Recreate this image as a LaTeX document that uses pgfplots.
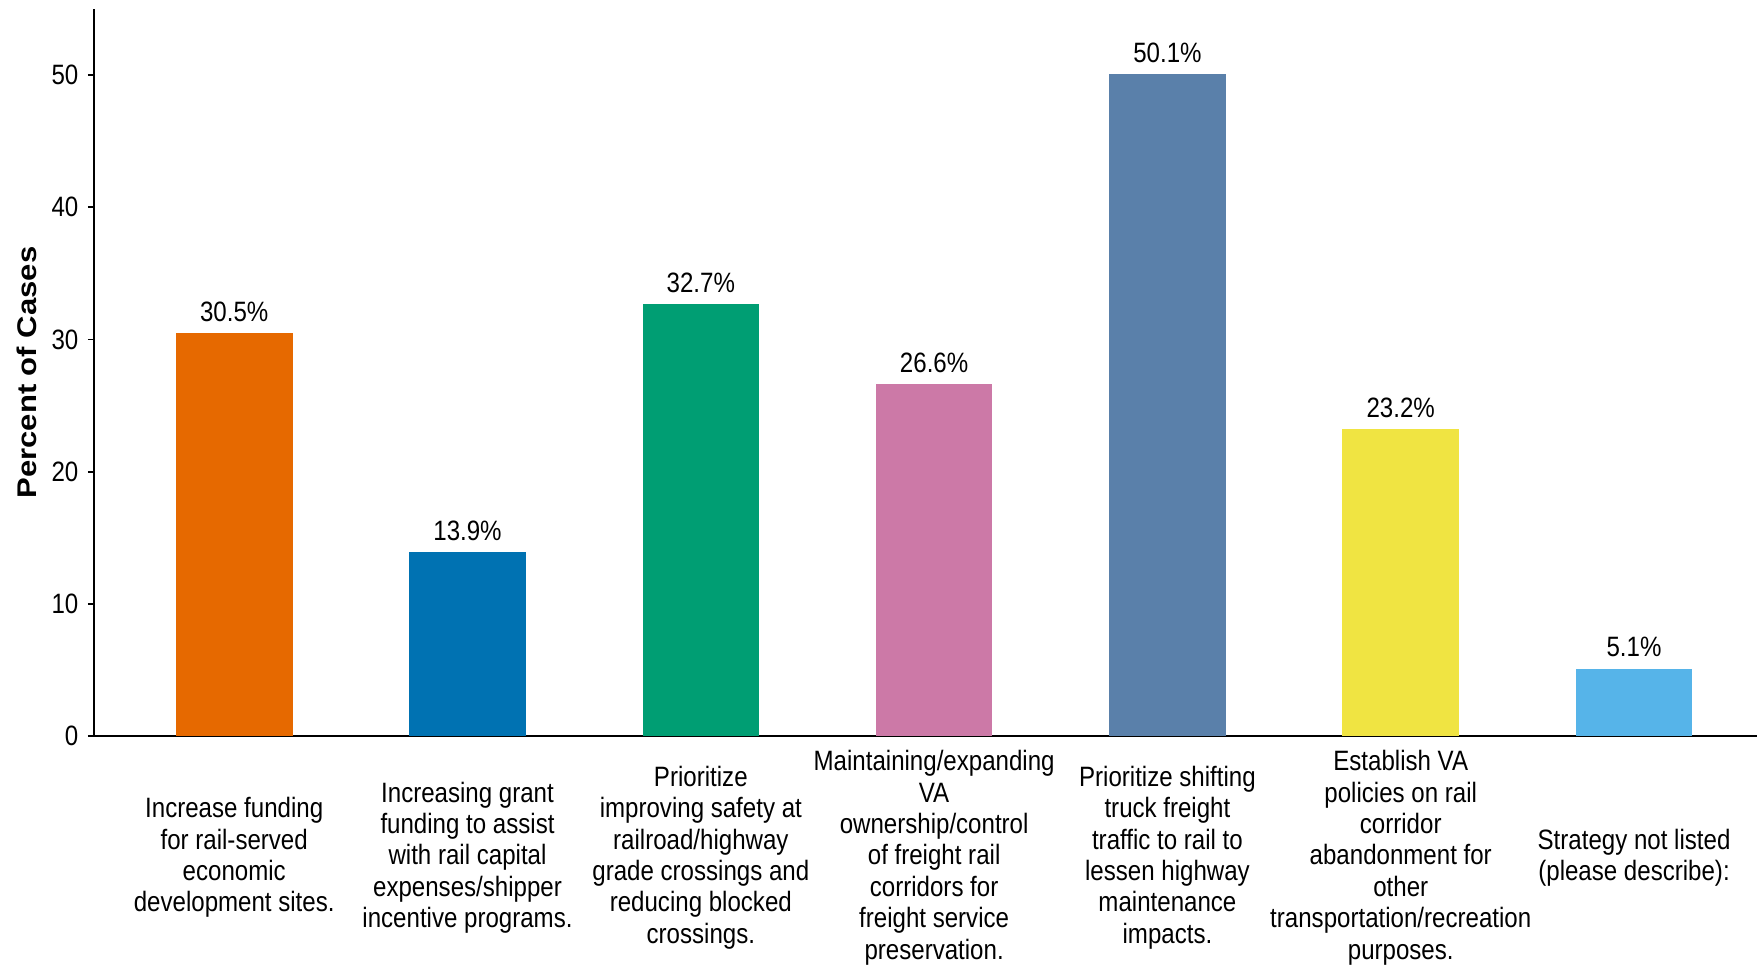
\documentclass[border=0pt]{standalone}
\usepackage{pgfplots}
\pgfplotsset{compat=1.18}
\usepackage{fontspec}
\setmainfont{Liberation Sans}[FakeStretch=0.86]
\newfontfamily\ylabfont{Liberation Sans}[FakeStretch=1.15]
\definecolor{c1}{HTML}{E66900}
\definecolor{c2}{HTML}{0072B2}
\definecolor{c3}{HTML}{009E73}
\definecolor{c4}{HTML}{CC79A7}
\definecolor{c5}{HTML}{5A80AA}
\definecolor{c6}{HTML}{F0E442}
\definecolor{c7}{HTML}{56B4E9}
\begin{document}
\begin{tikzpicture}
\begin{axis}[
  at={(0,0)}, anchor=south west,
  scale only axis,
  width=831.5pt, height=363.5pt,
  xmin=-0.601, xmax=6.527,
  ymin=0, ymax=55,
  axis lines=left,
  axis line style={-, line width=0.9pt, black},
  ytick={0,10,20,30,40,50},
  tick align=outside,
  major tick length=3pt,
  ytick style={line width=0.9pt, black},
  xtick={0,1,2,3,4,5,6},
  xtick style={draw=none},
  xticklabels={
    {Increase funding\\for rail-served\\economic\\development sites.},
    {Increasing grant\\funding to assist\\with rail capital\\expenses/shipper\\incentive programs.},
    {Prioritize\\improving safety at\\railroad/highway\\grade crossings and\\reducing blocked\\crossings.},
    {Maintaining/expanding\\VA\\ownership/control\\of freight rail\\corridors for\\freight service\\preservation.},
    {Prioritize shifting\\truck freight\\traffic to rail to\\lessen highway\\maintenance\\impacts.},
    {Establish VA\\policies on rail\\corridor\\abandonment for\\other\\transportation/recreation\\purposes.},
    {Strategy not listed\\(please describe):}
  },
  xticklabel style={font=\fontsize{14}{15.7}\selectfont, align=center, anchor=center, yshift=-57.8pt},
  yticklabel style={font=\fontsize{14}{15}\selectfont, xshift=-1.3pt},
  /pgf/number format/assume math mode=true,
  ylabel={Percent of Cases},
  every axis y label/.style={at={(axis description cs:0,0.5)}, xshift=-33.5pt, rotate=90, anchor=center, font=\ylabfont\bfseries\fontsize{13.5}{16}\selectfont},
  ybar, bar width=0.5, bar shift=0pt,
  nodes near coords={\pgfmathprintnumber[fixed,precision=1,fixed zerofill]{\pgfplotspointmeta}\%},
  nodes near coords style={font=\fontsize{14}{15}\selectfont, anchor=south, inner sep=2pt, yshift=3.5pt, black},
  clip=false,
]
\addplot[fill=c1, draw=none] coordinates {(0,30.5)};
\addplot[fill=c2, draw=none] coordinates {(1,13.9)};
\addplot[fill=c3, draw=none] coordinates {(2,32.7)};
\addplot[fill=c4, draw=none] coordinates {(3,26.6)};
\addplot[fill=c5, draw=none] coordinates {(4,50.1)};
\addplot[fill=c6, draw=none] coordinates {(5,23.2)};
\addplot[fill=c7, draw=none] coordinates {(6,5.1)};
\end{axis}
\pgfresetboundingbox
\useasboundingbox (-47pt,-115pt) rectangle (831.5pt,368pt);
\end{tikzpicture}
\end{document}
